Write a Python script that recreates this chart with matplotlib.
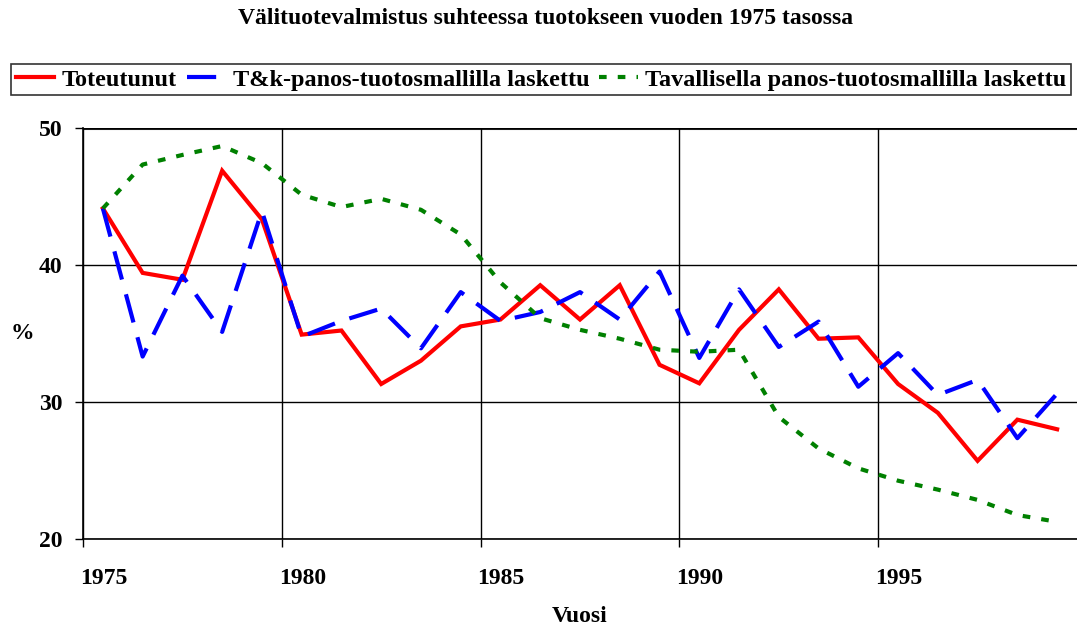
import numpy as np
import matplotlib
matplotlib.use("Agg")
import matplotlib.pyplot as plt
from matplotlib.transforms import ScaledTranslation

plt.rcParams['font.family'] = ['Liberation Serif', 'DejaVu Serif']
plt.rcParams['font.weight'] = 'bold'
plt.rcParams['lines.scale_dashes'] = False

# data (one value per year, plotted mid-year)
years = np.arange(1975, 2000)
toteutunut = [44.1, 39.4, 38.9, 46.85, 43.3, 34.9, 35.2, 31.3, 33.0, 35.5,
              36.0, 38.5, 36.0, 38.5, 32.7, 31.35, 35.25, 38.2, 34.6, 34.7,
              31.3, 29.2, 25.7, 28.7, 28.0]
tk_malli = [44.1, 33.3, 39.2, 35.1, 43.9, 34.75, 35.9, 36.8, 33.9, 38.0,
            35.9, 36.55, 38.0, 36.0, 39.5, 33.2, 38.2, 34.0, 35.85, 31.1,
            33.55, 30.5, 31.6, 27.35, 30.6]
tavallinen = [44.1, 47.3, 48.0, 48.65, 47.4, 45.1, 44.2, 44.8, 44.0, 42.2,
              38.7, 36.1, 35.25, 34.6, 33.8, 33.65, 33.8, 28.9, 26.6, 25.15,
              24.25, 23.6, 22.85, 21.75, 21.25]

labels = ['Toteutunut', 'T&k-panos-tuotosmallilla laskettu',
          'Tavallisella panos-tuotosmallilla laskettu']
title = 'Välituotevalmistus suhteessa tuotokseen vuoden 1975 tasossa'

fig = plt.figure(figsize=(10.77, 6.25), dpi=100)
ax = fig.add_axes([83 / 1077, 1 - 539 / 625, 1 - 83 / 1077, (539 - 127.5) / 625])

x = years + 0.5
ax.plot(x, toteutunut, color='red', lw=3, label=labels[0], solid_joinstyle='miter')
ax.plot(x, tk_malli, color='blue', lw=3, dashes=(21, 11), label=labels[1])
ax.plot(x, tavallinen, color='green', lw=3, dashes=(5.5, 8), label=labels[2])

ax.set_xlim(1975, 2000)
ax.set_ylim(20, 50)
ax.set_xticks([1975, 1980, 1985, 1990, 1995])
ax.set_yticks([20, 30, 40, 50])
ax.grid(True, color='black', lw=1.0)
ax.set_axisbelow(True)
for s in ['top', 'right']:
    ax.spines[s].set_visible(False)
ax.spines['left'].set_linewidth(1.2)
ax.spines['bottom'].set_linewidth(1.2)
ax.axhline(50, color='#222222', lw=2.2, zorder=0.5)
ax.tick_params(axis='both', direction='out', length=6, width=1, labelsize=17)
ax.tick_params(axis='x', pad=15)
ax.tick_params(axis='y', pad=9)
# year labels sit just right of their tick, as in the original
shift = ScaledTranslation(-3 / 100, 0, fig.dpi_scale_trans)
for lab in ax.get_xticklabels():
    lab.set_horizontalalignment('left')
    lab.set_transform(lab.get_transform() + shift)
for lab in ax.get_xticklabels() + ax.get_yticklabels():
    lab.set_fontweight('bold')

ax.set_xlabel('Vuosi', fontsize=17, fontweight='bold', labelpad=12)
fig.text(22 / 1077, 1 - 333 / 625, '%', fontsize=17, fontweight='bold', ha='center', va='center')
fig.text(546 / 1077, 1 - 18 / 625, title, fontsize=17, fontweight='bold', ha='center', va='center')

leg = fig.legend(loc='center', bbox_to_anchor=(541 / 1077, 1 - 79.5 / 625), ncol=3,
                 fontsize=17.5, frameon=True, fancybox=False, edgecolor='black',
                 handlelength=1.6, columnspacing=0.4, handletextpad=0.3,
                 borderpad=0.2, borderaxespad=0)
leg.get_frame().set_linewidth(1.2)
for t in leg.get_texts():
    t.set_fontweight('bold')

fig.savefig('out.png', dpi=100)
